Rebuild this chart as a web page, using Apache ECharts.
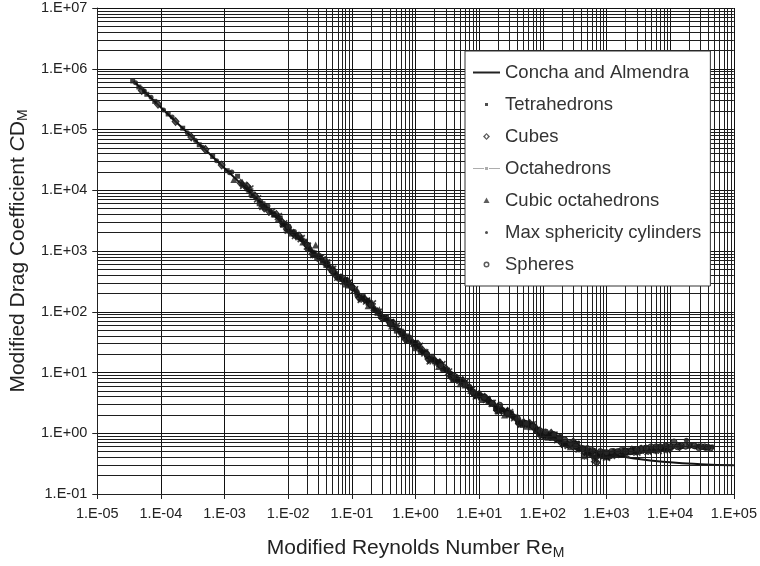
<!DOCTYPE html>
<html><head><meta charset="utf-8">
<script src="https://cdn.jsdelivr.net/npm/echarts@6/dist/echarts.min.js"></script>
<style>html,body{margin:0;padding:0;background:#fff}#c{width:760px;height:566px}</style>
</head><body><div id="c"></div>
<script>
// ---- data ----
const xMin = 1e-5, xMax = 1e5;
const yMin = 1e-1, yMax = 1e7;

const conchaRe = [4e-5, 1e-4, 3e-4, 1e-3, 3e-3, 1e-2, 3e-2, 0.1, 0.3, 1, 3, 10, 30, 100, 300, 1000, 3000, 10000, 30000, 100000];
const conchaCD = [5.8e5, 2.3e5, 7.7e4, 2.3e4, 7.75e3, 2.35e3, 796, 246, 86, 28.3, 10.9, 4.18, 1.97, 1.02, 0.65, 0.463, 0.38, 0.333, 0.31, 0.296];

const tetrahedrons = [[3.6e-5,6.3e5],[4.5e-5,5.0e5],[6e-5,3.8e5],[8e-5,2.9e5],[1.3e-4,1.8e5],[2.2e-4,1.05e5],[4e-4,5.6e4],[6.5e-4,3.6e4],[1.1e-3,2.1e4],[2.5e-3,9.6e3],[4e-3,6.0e3],[6e-3,3.9e3],[9e-3,2.7e3],[1.4e-2,1.65e3],[2.2e-2,1.05e3],[3.5e-2,690],[5.5e-2,430],[8e-2,300],[0.12,205],[0.18,138],[0.28,92],[0.42,62],[0.65,41],[1.0,27],[1.5,20],[2.3,13.5],[3.5,9.6],[5.2,6.9],[8,4.9],[12,3.7],[18,2.8],[27,2.15],[40,1.65],[60,1.35],[90,1.05],[130,0.88],[190,0.74],[280,0.64],[400,0.56],[600,0.50],[800,0.47],[1100,0.48],[1500,0.50],[2000,0.52],[2800,0.50],[4000,0.53],[5500,0.52],[8000,0.55],
  [1.6e-3,1.7e4],[3.5e-3,6.0e3],[7.5e-3,3.5e3],[1.1e-2,1.9e3],[1.8e-2,1.45e3],[2.8e-2,760],[4.2e-2,620],[6.5e-2,340],[0.15,185],[0.22,105],[0.35,82],[0.5,48],[0.75,40],[1.2,22],[1.8,18.5],[2.7,10.8],[4,7.6],[6,6.8],[9,4.1],[14,3.6],[21,2.3],[32,2.15],[48,1.35],[70,1.35],[100,0.9],[150,0.95],[230,0.66],[350,0.68],[520,0.45],[900,0.41]];

const cubes = [[5e-5,4.4e5],[9e-5,2.6e5],[1.7e-4,1.35e5],[3e-4,7.5e4],[5e-4,4.7e4],[9e-4,2.6e4],[1.8e-3,1.3e4],[3e-3,8.1e3],[5e-3,4.5e3],[8e-3,3.0e3],[1.2e-2,1.95e3],[1.9e-2,1.3e3],[3e-2,830],[4.5e-2,520],[7e-2,360],[0.1,260],[0.16,160],[0.25,100],[0.38,70],[0.6,46],[0.9,31],[1.3,23],[2,15.8],[3,11.5],[4.5,8.0],[7,5.7],[10,4.4],[15,3.2],[22,2.5],[33,1.95],[50,1.5],[75,1.2],[110,0.98],[160,0.82],[240,0.68],[350,0.58],[500,0.5],[700,0.33],[900,0.44],[1300,0.47],[1800,0.48],[2500,0.53],[3500,0.55],[5000,0.54],[7000,0.57],[10000,0.56],[14000,0.6],
  [2.3e-3,1.15e4],[4.2e-3,5.1e3],[6.5e-3,4.0e3],[9.5e-3,2.3e3],[1.5e-2,1.75e3],[2.4e-2,890],[3.8e-2,700],[5.8e-2,380],[8.5e-2,320],[0.13,170],[0.19,135],[0.3,78],[0.45,65],[0.7,35],[1.1,29],[1.6,16.5],[2.4,14.5],[3.6,8.5],[5.5,7.4],[8.5,4.3],[13,3.7],[19,2.4],[28,2.3],[42,1.45],[62,1.45],[90,0.95],[135,1.0],[200,0.68],[300,0.72],[450,0.5],[650,0.43],[1100,0.42]];

const octahedrons = [[2e-3,1.2e4],[3.3e-3,7.2e3],[5.5e-3,4.4e3],[8.5e-3,2.8e3],[1.3e-2,1.8e3],[2e-2,1.2e3],[3.2e-2,760],[5e-2,500],[7.5e-2,320],[0.11,230],[0.17,150],[0.26,98],[0.4,66],[0.6,43],[0.95,30],[1.4,21],[2.2,14.5],[3.3,10.2],[5,7.4],[7.5,5.1],[11,4.0],[16,3.1],[25,2.3],[36,1.8],[55,1.42],[80,1.12],[120,0.92],[170,0.78],[250,0.63],[370,0.55],[450,0.42],[550,0.47],[650,0.38],[750,0.43],[1000,0.40],[1400,0.45],[2000,0.46],[3000,0.49],[4500,0.5],[6500,0.52],[9000,0.53],
  [2.5e-3,1.05e4],[4e-3,5.4e3],[7e-3,3.7e3],[1e-2,2.2e3],[1.6e-2,1.6e3],[2.5e-2,880],[4e-2,640],[6e-2,370],[9e-2,300],[0.14,160],[0.21,135],[0.32,78],[0.5,58],[0.75,34],[1.15,27],[1.7,15.5],[2.6,13.5],[4,7.8],[6,6.9],[9,4.1],[13,3.6],[20,2.35],[30,2.2],[45,1.42],[68,1.38],[100,0.92],[150,0.93],[220,0.66],[330,0.66],[500,0.5],[850,0.45],[1200,0.43],[1800,0.47],[2600,0.5],[3800,0.52],[5500,0.53],[8000,0.55]];

const cubicOctahedrons = [[1.4e-3,1.5e4],[2.8e-3,8.4e3],[4.5e-3,5.3e3],[7e-3,3.4e3],[1.1e-2,2.2e3],[1.7e-2,1.4e3],[2.7e-2,1250],[2.7e-2,900],[4e-2,600],[6e-2,400],[9e-2,275],[0.14,175],[0.22,118],[0.33,80],[0.5,55],[0.8,36],[1.2,24.5],[1.8,17],[2.7,12],[4,8.6],[6,6.2],[9,4.5],[14,3.4],[20,2.65],[30,2.05],[45,1.58],[65,1.28],[95,1.02],[140,0.85],[210,0.7],[320,0.6],[480,0.5],[700,0.45],[1000,0.45],[1600,0.49],[2300,0.5],[3300,0.52],[5000,0.55],
  [1.9e-3,1.35e4],[3.8e-3,5.9e3],[6e-3,4.1e3],[9.5e-3,2.4e3],[1.4e-2,1.8e3],[2.2e-2,1.15e3],[3.4e-2,680],[5.2e-2,520],[8e-2,285],[0.12,230],[0.18,125],[0.27,108],[0.42,58],[0.65,47],[1.0,25.5],[1.5,22],[2.3,12.5],[3.4,10.8],[5,6.5],[7.5,5.6],[11,3.6],[17,3.2],[25,2.0],[38,1.85],[55,1.3],[80,1.25],[120,0.86],[180,0.84],[270,0.6],[400,0.6],[600,0.45],[850,0.47],[1300,0.47],[2000,0.5],[2800,0.52],[4200,0.54],[6500,0.56]];

const maxSphericityCylinders = [[4e-5,5.9e5],[5.5e-5,4.3e5],[7e-5,3.4e5],[1.1e-4,2.1e5],[1.5e-4,1.6e5],[2.6e-4,8.8e4],[3.5e-4,6.6e4],[4.5e-4,5.1e4],[7.5e-4,3.05e4],[1.2e-3,1.95e4],[2.2e-3,1.05e4],[3.7e-3,6.5e3],[6e-3,4.0e3],[1e-2,2.5e3],[1.6e-2,1.55e3],[2.5e-2,960],[4e-2,580],[6.5e-2,380],[0.1,250],[0.15,168],[0.23,110],[0.35,75],[0.55,50],[0.85,33],[1.3,22],[2,16],[3,11.2],[4.5,7.8],[7,5.6],[10,4.4],[15,3.3],[23,2.45],[35,1.9],[52,1.5],[80,1.2],[120,0.97],[190,0.9],[300,0.68],[450,0.57],[650,0.52],[900,0.5],[1300,0.52],[1900,0.55],[2700,0.56],[4000,0.58],[6000,0.6],[9000,0.62],[13000,0.62],[18000,0.77],[25000,0.6],[32000,0.59],[40000,0.58],[46000,0.6],
  [1.3e-3,2.0e4],[2.6e-3,8.2e3],[4.8e-3,5.5e3],[8e-3,2.65e3],[1.25e-2,2.1e3],[2e-2,1.05e3],[3.2e-2,830],[5e-2,430],[8e-2,340],[0.12,185],[0.18,155],[0.28,82],[0.42,70],[0.65,38],[1,31],[1.5,18],[2.3,15],[3.5,8.6],[5.2,7.6],[8,4.5],[12,4.1],[18,2.5],[27,2.3],[40,1.5],[60,1.45],[90,0.95],[140,0.98],[210,0.66],[320,0.7],[500,0.48],[750,0.46],[1100,0.46],[1600,0.5],[2200,0.53],[3200,0.54],[5000,0.57],[7500,0.58],[11000,0.6],[15000,0.6],[21000,0.62],[28000,0.62],[36000,0.56]];

const spheres = [[0.05,470],[0.2,130],[0.8,37],[2.5,13],[6,6.4],[12,3.9],[21,2.9],[40,1.75],[70,1.3],[110,1.05],[150,0.95],[220,0.78],[330,0.62],[500,0.56],[800,0.5],[1200,0.5],[1700,0.52],[2400,0.5],[3500,0.56],[5000,0.6],[7000,0.6],[10000,0.6],[11500,0.72],[15000,0.62],[20000,0.63],[28000,0.58],[35000,0.6],[43000,0.57],
  [1e-2,2.5e3],[2e-2,1.25e3],[0.1,250],[0.4,63],[1.5,20],[4,8.8],[8,4.7],[16,3.1],[28,2.1],[55,1.45],[90,1.1],[180,0.84],[270,0.68],[420,0.56],[600,0.52],[1000,0.48],[1500,0.5],[2000,0.5],[3000,0.54],[4200,0.57],[6000,0.6],[8500,0.62],[13000,0.6],[17500,0.61],[24000,0.62],[31000,0.6],[39000,0.59]];

const seriesNames = ['Concha and Almendra','Tetrahedrons','Cubes','Octahedrons','Cubic octahedrons','Max sphericity cylinders','Spheres'];

// minor grid values (2..9 × each decade)
function minorVals(e0, e1){ const out=[]; for(let e=e0;e<e1;e++){ for(let k=2;k<=9;k++) out.push(k*Math.pow(10,e)); } return out; }
const xMinor = minorVals(-5,5);
const yMinor = minorVals(-1,7);

function fmt(v){ const e = Math.round(Math.log10(v)); return '1.E' + (e<0?'-':'+') + String(Math.abs(e)).padStart(2,'0'); }

const FONT = 'Liberation Sans';
const chart = echarts.init(document.getElementById('c'), null, {renderer:'canvas'});
const gridLine = {symbol:'none', silent:true, animation:false, label:{show:false}, lineStyle:{color:'#1e1e1e', width:1, type:'solid'}, emphasis:{disabled:true}};

chart.setOption({
  animation:false,
  backgroundColor:'#fff',
  grid:{left:94, right:25, top:8, bottom:72},
  xAxis:{type:'log', logBase:10, min:xMin, max:xMax, interval:1,
    name:'Modified Reynolds Number Re{sub|M}', nameLocation:'middle', nameGap:43,
    nameTextStyle:{fontFamily:FONT, fontSize:21, color:'#222', rich:{sub:{fontFamily:FONT, fontSize:14, color:'#222', padding:[9,0,0,0]}}},
    axisLine:{lineStyle:{color:'#222', width:1}},
    axisTick:{show:true, inside:false, length:5, lineStyle:{color:'#222'}},
    axisLabel:{formatter:fmt, fontFamily:FONT, fontSize:14.5, color:'#222', margin:12},
    splitLine:{show:true, lineStyle:{color:'#111', width:1}},
    minorTick:{show:false}, minorSplitLine:{show:false}},
  yAxis:{type:'log', logBase:10, min:yMin, max:yMax, interval:1,
    name:'Modified Drag Coefficient {it|C}D{sub|M}', nameLocation:'middle', nameGap:60, nameRotate:90,
    nameTextStyle:{fontFamily:FONT, fontSize:21, color:'#222', rich:{it:{fontFamily:FONT, fontSize:21, fontStyle:'italic', color:'#222'}, sub:{fontFamily:FONT, fontSize:14, color:'#222', padding:[9,0,0,0]}}},
    axisLine:{show:true, lineStyle:{color:'#222', width:1}},
    axisTick:{show:true, inside:false, length:5, lineStyle:{color:'#222'}},
    axisLabel:{formatter:fmt, fontFamily:FONT, fontSize:14.5, color:'#222', margin:10},
    splitLine:{show:true, lineStyle:{color:'#111', width:1}},
    minorTick:{show:false}, minorSplitLine:{show:false}},
  legend:{orient:'vertical', left:465, top:51, z:20, zlevel:1, itemWidth:27, itemHeight:14, itemGap:13,
    padding:[12,9,12,8], backgroundColor:'#fff', borderColor:'#333', borderWidth:1,
    textStyle:{fontFamily:FONT, fontSize:18.5, color:'#333'},
    data:[
      {name:'Concha and Almendra', icon:'path://M0 0M27 14M0 6h27v2h-27z', itemStyle:{color:'#222', borderWidth:0}},
      {name:'Tetrahedrons', icon:'path://M0 0M27 14M12 5.5h3v3h-3z', itemStyle:{color:'#222', borderWidth:0}},
      {name:'Cubes', icon:'path://M0 0M27 14M13.5 3.5L17 7L13.5 10.5L10 7Z M13.5 5L12 7L13.5 9L15 7Z', itemStyle:{color:'#333', borderWidth:0}},
      {name:'Octahedrons', icon:'path://M0 0M27 14M0 6.5h11v1h-11z M16 6.5h11v1h-11z M12 5.5h3v3h-3z', itemStyle:{color:'#999', borderWidth:0}},
      {name:'Cubic octahedrons', icon:'path://M0 0M27 14M13.5 4L16.5 9.5L10.5 9.5Z', itemStyle:{color:'#333', borderWidth:0}},
      {name:'Max sphericity cylinders', icon:'path://M0 0M27 14M12 7A1.5 1.5 0 1 1 15 7A1.5 1.5 0 1 1 12 7Z', itemStyle:{color:'#222', borderWidth:0}},
      {name:'Spheres', icon:'path://M0 0M27 14M10.5 7A3 3 0 1 1 16.5 7A3 3 0 1 1 10.5 7Z M12 7A1.5 1.5 0 1 0 15 7A1.5 1.5 0 1 0 12 7Z', itemStyle:{color:'#333', borderWidth:0}}
    ]},
  series:[
    {name:'_grid', type:'line', data:[], z:1, silent:true,
      markLine:Object.assign({data: xMinor.map(v=>({xAxis:v})).concat(yMinor.map(v=>({yAxis:v})))}, gridLine)},
    {name:seriesNames[0], type:'line', data:conchaRe.map((x,i)=>[x, conchaCD[i]]), smooth:true, showSymbol:false, symbol:'none', z:3,
      lineStyle:{color:'#111', width:2}, itemStyle:{color:'#111'}},
    {name:seriesNames[1], type:'scatter', data:tetrahedrons, symbol:'rect', symbolSize:5, z:4, itemStyle:{color:'#111'}},
    {name:seriesNames[2], type:'scatter', data:cubes, symbol:'diamond', symbolSize:[7,8], z:4, itemStyle:{color:'#2a2a2a', borderColor:'#111', borderWidth:1}},
    {name:seriesNames[3], type:'scatter', data:octahedrons, symbol:'path://M0 0L6 6M6 0L0 6M3 0L3 6M0 3L6 3', symbolSize:7, z:4, itemStyle:{color:'rgba(0,0,0,0)', borderColor:'#111', borderWidth:1.6}},
    {name:seriesNames[4], type:'scatter', data:cubicOctahedrons, symbol:'triangle', symbolSize:7, z:4, itemStyle:{color:'#1a1a1a'}},
    {name:seriesNames[5], type:'scatter', data:maxSphericityCylinders, symbol:'circle', symbolSize:5, z:4, itemStyle:{color:'#111'}},
    {name:seriesNames[6], type:'scatter', data:spheres, symbol:'circle', symbolSize:6, z:4, itemStyle:{color:'#2a2a2a', borderColor:'#111', borderWidth:1}}
  ]
});
</script></body></html>
